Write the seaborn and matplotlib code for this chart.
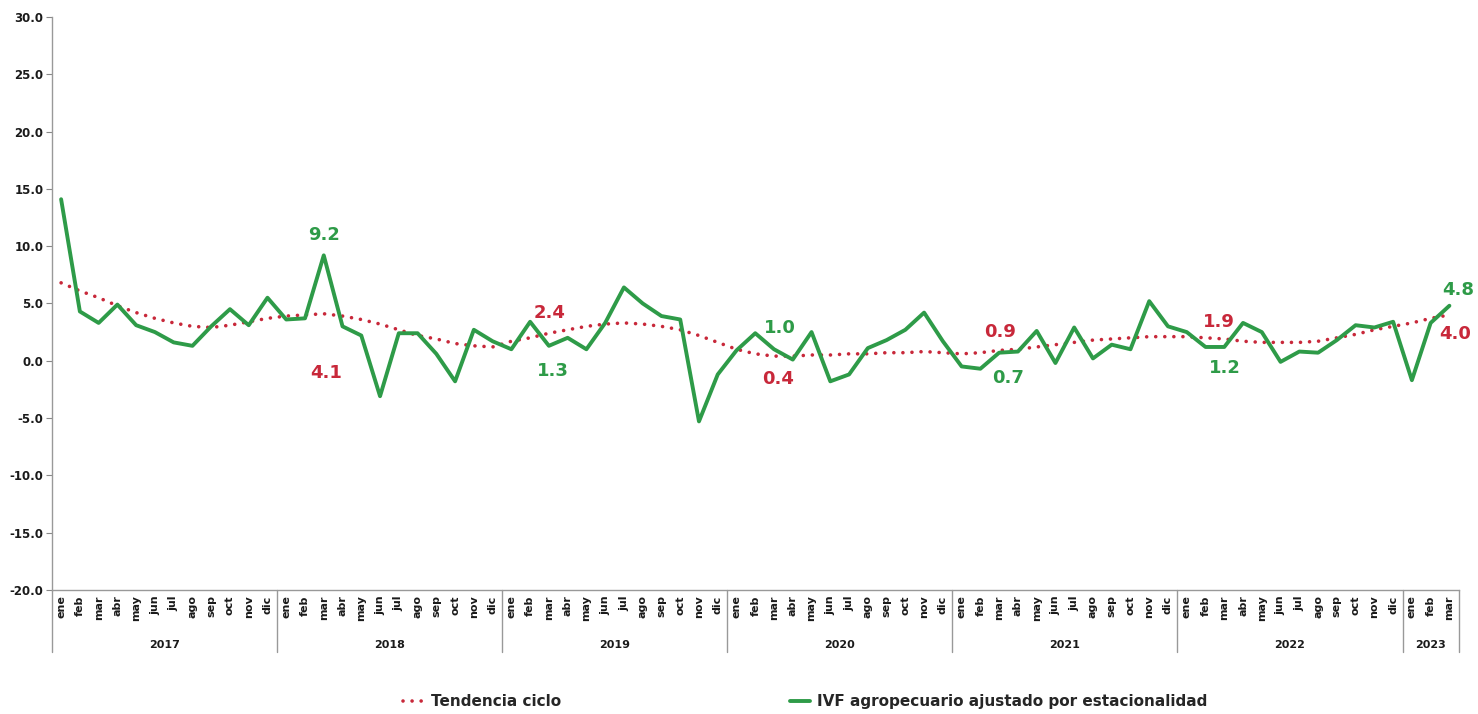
import numpy as np
import pandas as pd
import matplotlib.pyplot as plt
import matplotlib.transforms as mtransforms
from matplotlib.lines import Line2D
import seaborn as sns

# data (ene 2017 .. mar 2023)
months = ['ene', 'feb', 'mar', 'abr', 'may', 'jun', 'jul', 'ago', 'sep', 'oct', 'nov', 'dic']
years = ['2017', '2018', '2019', '2020', '2021', '2022', '2023']
months_per_year = [12, 12, 12, 12, 12, 12, 3]

ivf = [14.1, 4.3, 3.3, 4.9, 3.1, 2.5, 1.6, 1.3, 3.0, 4.5, 3.1, 5.5,
       3.6, 3.7, 9.2, 3.0, 2.2, -3.1, 2.4, 2.4, 0.6, -1.8, 2.7, 1.7,
       1.0, 3.4, 1.3, 2.0, 1.0, 3.3, 6.4, 5.0, 3.9, 3.6, -5.3, -1.2,
       0.9, 2.4, 1.0, 0.1, 2.5, -1.8, -1.2, 1.1, 1.8, 2.7, 4.2, 1.7,
       -0.5, -0.7, 0.7, 0.8, 2.6, -0.2, 2.9, 0.2, 1.4, 1.0, 5.2, 3.0,
       2.5, 1.2, 1.2, 3.3, 2.5, -0.1, 0.8, 0.7, 1.8, 3.1, 2.9, 3.4,
       -1.7, 3.3, 4.8]

tendencia = [6.8, 6.1, 5.5, 4.8, 4.2, 3.7, 3.3, 3.0, 2.9, 3.1, 3.4, 3.7,
             3.9, 4.0, 4.1, 3.9, 3.6, 3.2, 2.7, 2.2, 1.9, 1.5, 1.3, 1.2,
             1.7, 2.0, 2.4, 2.7, 3.0, 3.2, 3.3, 3.2, 3.0, 2.7, 2.2, 1.6,
             1.0, 0.6, 0.4, 0.4, 0.5, 0.5, 0.6, 0.6, 0.7, 0.7, 0.8, 0.7,
             0.6, 0.7, 0.9, 1.0, 1.2, 1.4, 1.6, 1.8, 1.9, 2.0, 2.1, 2.1,
             2.1, 2.0, 1.9, 1.7, 1.6, 1.6, 1.6, 1.7, 2.0, 2.3, 2.7, 3.0,
             3.3, 3.7, 4.0]

month_labels = [m for n in months_per_year for m in months[:n]]
n = len(ivf)
df = pd.DataFrame({'idx': np.arange(n), 'ivf': ivf, 'tend': tendencia})

green = '#2e9b48'
red = '#c8283a'

sns.set_style('white')
plt.rcParams['font.family'] = ['DejaVu Sans']
plt.rcParams['font.weight'] = 'bold'

fig = plt.figure(figsize=(14.78, 7.14), dpi=100)
ax = fig.add_axes([0.035, 0.174, 0.952, 0.802])

sns.lineplot(data=df, x='idx', y='tend', ax=ax, color=red, linewidth=2.6,
             linestyle=(0, (0.01, 2.5)), dash_capstyle='round', label='Tendencia ciclo')
sns.lineplot(data=df, x='idx', y='ivf', ax=ax, color=green, linewidth=2.8,
             label='IVF agropecuario ajustado por estacionalidad')

ax.set_ylim(-20, 30)
ax.set_yticks(np.arange(-20, 31, 5))
ax.set_yticklabels(['%.1f' % v for v in np.arange(-20, 31, 5)], fontsize=8.5,
                   fontweight='bold', color='#1a1a1a')
ax.set_xlim(-0.5, n - 0.5)
ax.set_xticks(np.arange(n))
ax.set_xticklabels(month_labels, rotation=90, fontsize=8, fontweight='bold', color='#1a1a1a')
ax.tick_params(axis='x', length=0, pad=4)
ax.tick_params(axis='y', length=4, width=0.8, color='#888888', pad=2, left=True)
ax.set_xlabel('')
ax.set_ylabel('')
for s in ['top', 'right']:
    ax.spines[s].set_visible(False)
for s in ['left', 'bottom']:
    ax.spines[s].set_color('#999999')
    ax.spines[s].set_linewidth(1.0)

# year groups under the month labels
trans = mtransforms.blended_transform_factory(ax.transData, ax.transAxes)
start = 0
bounds = [-0.5]
for yr, k in zip(years, months_per_year):
    ax.text(start + (k - 1) / 2, -0.096, yr, transform=trans, ha='center', va='center',
            fontsize=8, fontweight='bold', color='#1a1a1a')
    start += k
    bounds.append(start - 0.5)
for b in bounds:
    ax.add_line(Line2D([b, b], [0, -0.108], transform=trans, color='#999999',
                       linewidth=1.0, clip_on=False))

# value labels at march of each year
px = 1 / 1.389
labels = [
    (14, 'ivf', green, (0, 20)), (14, 'tend', red, (2, -59)),
    (26, 'tend', red, (1, 20)), (26, 'ivf', green, (4, -25)),
    (38, 'ivf', green, (6, 21)), (38, 'tend', red, (4, -23)),
    (50, 'tend', red, (1, 18)), (50, 'ivf', green, (9, -25)),
    (62, 'tend', red, (-5, 17)), (62, 'ivf', green, (1, -21)),
    (74, 'ivf', green, (9, 16)), (74, 'tend', red, (6, -19)),
]
for i, col, c, (dx, dy) in labels:
    v = df.loc[i, col]
    ax.annotate('%.1f' % v, (i, v), xytext=(dx * px, dy * px), textcoords='offset points',
                ha='center', va='center', fontsize=13, fontweight='bold', color=c)

ax.legend().remove()
h, l = ax.get_legend_handles_labels()
fig.legend(h, l, loc='center', bbox_to_anchor=(0.545, 0.017), ncol=2, frameon=False,
           handlelength=1.3, columnspacing=15.0, handletextpad=0.5,
           prop={'weight': 'bold', 'size': 11})

fig.savefig('out.png', dpi=100)
